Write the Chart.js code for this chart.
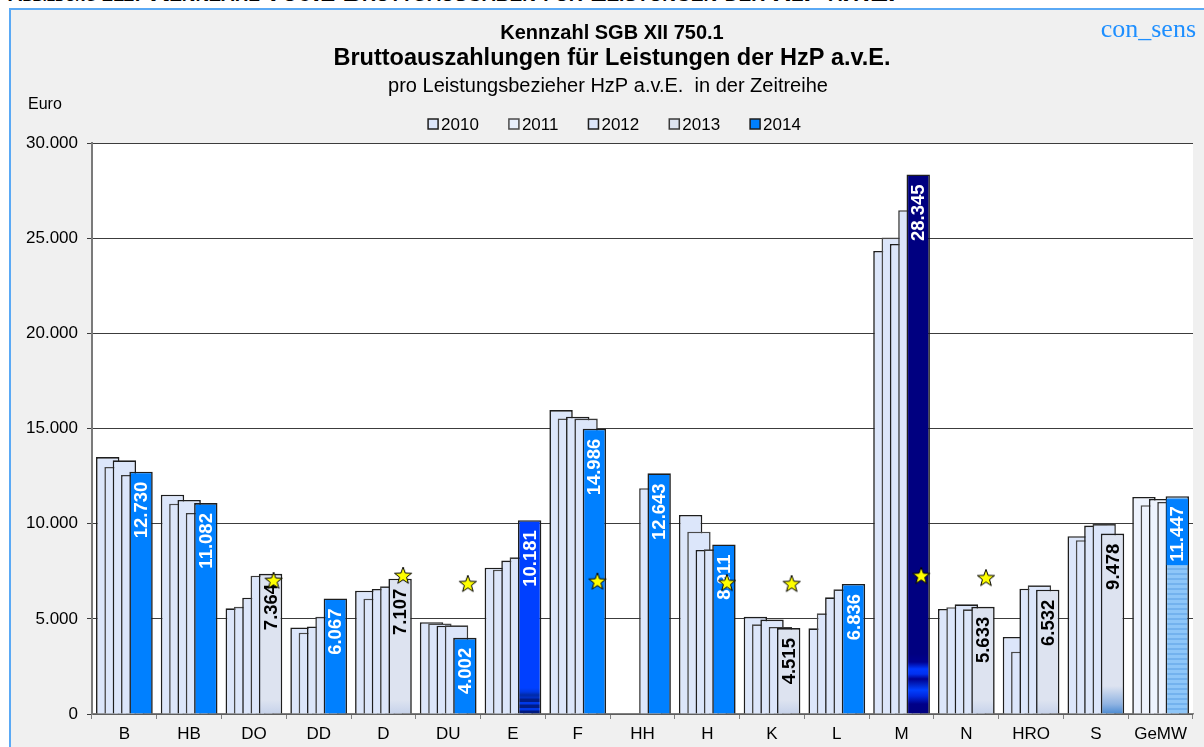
<!DOCTYPE html>
<html>
<head>
<meta charset="utf-8">
<script src="https://cdn.jsdelivr.net/npm/chart.js@4.4.0/dist/chart.umd.min.js"></script>
<style>
  html, body { margin: 0; padding: 0; background: #fff; overflow: hidden; }
  #wrap { position: relative; width: 1204px; height: 747px; }
  #head { position: absolute; left: 8px; top: -23px; font-family: "Liberation Sans", Arial, sans-serif; font-weight: bold; font-variant: small-caps; white-space: pre; color: #000; line-height: 30px; }
  #head .a { font-size: 20px; }
  #head .b { font-size: 27px; }
  #frame { position: absolute; left: 9px; top: 8px; width: 1300px; height: 800px; background: #f0f0f0; border-left: 2px solid #5aa9f5; border-top: 2px solid #5aa9f5; }
  #c { position: absolute; left: 0; top: 0; }
</style>
</head>
<body>
<div id="wrap">
  <div id="head"><span class="a">Abbildung 211:</span>  <span class="b">Kennzahl 750.1 Bruttoausgaben für Leistungen der HzP a.v.E.</span></div>
  <div id="frame"></div>
  <canvas id="c" width="1204" height="747"></canvas>
</div>
<script>
// Städte und Werte je Jahr (Euro pro Leistungsbezieher)
var cities = ["B","HB","DO","DD","D","DU","E","F","HH","H","K","L","M","N","HRO","S","GeMW"]
var years = ["2010","2011","2012","2013","2014"]
var v2010 = [13500,11520,5550,4550,6480,4820,7690,15970,null,10460,5110,4500,24330,5520,4050,9340,11400]
var v2011 = [12980,11050,5640,4270,6060,4760,7580,15530,null,9580,4710,5290,25030,5610,3270,9130,10970]
var v2012 = [13330,11250,6110,4600,6570,4640,8060,15620,null,8620,4960,6130,24700,5760,6580,9900,11300]
var v2013 = [12560,10560,7270,5110,6710,4660,8230,15520,11860,8650,4570,6550,26470,5500,6760,9980,11140]
var v2014 = [12730,11082,7364,6067,7107,4002,10181,14986,12643,8911,4515,6836,28345,5633,6532,9478,11447]
// Sterne (Vergleichswert je Stadt)
var stars = [null,null,7040,null,7300,6870,null,7000,null,6920,6870,null,7290,7180,null,null,null]
var yTicks = [0,5000,10000,15000,20000,25000,30000]

// Farbe je Balken 2014
var kind14 = ["blue","blue","light","blue","light","blue","stripe","blue","blue","blue","light","blue","navy","light","light","fade","mean"]

var FONT = '"Liberation Sans", Arial, sans-serif'

function fmt(v){
  return String(v).replace(/\B(?=(\d{3})+(?!\d))/g, ".")
}

function makeStar(){
  var c = document.createElement("canvas")
  c.width = 22; c.height = 22
  var g = c.getContext("2d")
  g.beginPath()
  for (var k = 0; k < 10; k++){
    var r = k % 2 ? 3.7 : 9
    var a = -Math.PI/2 + k*Math.PI/5
    g.lineTo(11 + r*Math.cos(a), 12 + r*Math.sin(a))
  }
  g.closePath()
  g.fillStyle = "#ffff00"
  g.fill()
  g.lineWidth = 1
  g.strokeStyle = "#000"
  g.stroke()
  return c
}
var starImg = makeStar()

var stripePat = null
function meanPattern(ctx){
  if (!stripePat){
    var c = document.createElement("canvas")
    c.width = 4; c.height = 5
    var g = c.getContext("2d")
    g.fillStyle = "#8ec6f8"; g.fillRect(0,0,4,5)
    g.fillStyle = "#73b2ee"; g.fillRect(0,3,4,2)
    stripePat = ctx.createPattern(c, "repeat")
  }
  return stripePat
}

function light(i){ return cities[i] == "GeMW" ? "#eef3fd" : "#dce6fa" }

function fill14(ctx){
  var i = ctx.dataIndex
  var k = kind14[i]
  var area = ctx.chart.chartArea
  var g2 = ctx.chart.ctx
  if (k == "blue") return "#0080ff"
  if (k == "mean") return area ? meanPattern(g2) : "#80c0ff"
  if (!area){
    return k == "navy" ? "#000080" : k == "stripe" ? "#0040ff" : "#dde3f0"
  }
  var b = area.bottom
  var gr
  if (k == "stripe"){
    gr = g2.createLinearGradient(0, b, 0, b-30)
    var st = [[0,"#001a80"],[3,"#001a80"],[4,"#0038e8"],[5.5,"#0038e8"],[6.5,"#001c88"],[9,"#001c88"],[10,"#0038e8"],[11.5,"#0038e8"],[12.5,"#001c88"],[15,"#001c88"],[16,"#0030c8"],[19,"#002aa8"],[22,"#0038e0"],[26,"#0040ff"],[30,"#0040ff"]]
    st.forEach(function(s){ gr.addColorStop(s[0]/30, s[1]) })
    return gr
  }
  if (k == "navy"){
    gr = g2.createLinearGradient(0, b, 0, b-60)
    var sn = [[0,"#000080"],[10,"#000088"],[18,"#0028e0"],[24,"#0040ff"],[30,"#0020c0"],[35,"#000090"],[40,"#0030f0"],[45,"#0038ff"],[52,"#000090"],[60,"#000080"]]
    sn.forEach(function(s){ gr.addColorStop(s[0]/60, s[1]) })
    return gr
  }
  if (k == "fade"){
    gr = g2.createLinearGradient(0, b, 0, b-28)
    gr.addColorStop(0, "#4a8ad2")
    gr.addColorStop(0.35, "#8fb3e2")
    gr.addColorStop(1, "#dde3f0")
    return gr
  }
  gr = g2.createLinearGradient(0, b, 0, b-14)
  gr.addColorStop(0, "#c6d2ea")
  gr.addColorStop(1, "#dde3f0")
  return gr
}

// Beschriftung der Balken 2014 (senkrecht)
function drawLabels(chart){
  var ctx = chart.ctx
  var meta = chart.getDatasetMeta(4)
  meta.data.forEach(function(bar, i){
    var v = v2014[i]
    if (v == null) return
    var k = kind14[i]
    ctx.save()
    if (k == "mean"){
      ctx.fillStyle = "#0080ff"
      ctx.fillRect(bar.x - bar.width/2 + 1, bar.y + 3, bar.width - 2, 66)
    }
    ctx.translate(bar.x + 1, bar.y + 10)
    ctx.rotate(-Math.PI/2)
    ctx.font = "bold 18.5px " + FONT
    ctx.textAlign = "right"
    ctx.textBaseline = "middle"
    ctx.fillStyle = (k == "light" || k == "fade") ? "#000" : "#fff"
    ctx.fillText(fmt(v), 0, 0)
    ctx.restore()
  })
}

// Sterne ueber dem Balken 2014, Hoehe ueber die y-Skala
function drawStars(chart){
  var ctx = chart.ctx
  var meta = chart.getDatasetMeta(4)
  var y = chart.scales.y
  stars.forEach(function(v, i){
    if (v == null) return
    var px = meta.data[i].x + 3
    var py = y.getPixelForValue(v)
    ctx.drawImage(starImg, px - 11, py - 11)
  })
}

// 2014 liegt vorne: Datensaetze in Reihenfolge zeichnen
var drawOrder = {
  id: "drawOrder",
  beforeDatasetsDraw: function(chart){
    for (var i = 0; i < chart.data.datasets.length; i++) chart.getDatasetMeta(i).controller.draw()
    drawLabels(chart)
    drawStars(chart)
    return false
  }
}

var frameText = {
  id: "frameText",
  beforeDraw: function(chart){
    var ctx = chart.ctx
    var a = chart.chartArea
    ctx.save()
    ctx.fillStyle = "#fff"
    ctx.fillRect(a.left, a.top, a.right - a.left, a.bottom - a.top)
    ctx.fillStyle = "#000"
    ctx.textAlign = "center"
    ctx.textBaseline = "middle"
    ctx.font = "bold 20px " + FONT
    ctx.fillText("Kennzahl SGB XII 750.1", 612, 33)
    ctx.font = "bold 23.5px " + FONT
    ctx.fillText("Bruttoauszahlungen für Leistungen der HzP a.v.E.", 612, 59)
    ctx.font = "20px " + FONT
    ctx.fillText("pro Leistungsbezieher HzP a.v.E.  in der Zeitreihe", 608, 86)
    ctx.textAlign = "left"
    ctx.font = "16px " + FONT
    ctx.fillText("Euro", 28, 105)
    ctx.textAlign = "right"
    ctx.fillStyle = "#1e8fff"
    ctx.font = '26px "Liberation Serif", "Times New Roman", serif'
    ctx.fillText("con_sens", 1196, 30)

    // Legende
    ctx.font = "17px " + FONT
    ctx.textAlign = "left"
    var items = chart.data.datasets
    var gap = 29, tot = 0
    items.forEach(function(d){ tot += 14 + ctx.measureText(d.label).width })
    tot += gap * (items.length - 1)
    var x = 615 - tot/2, y = 124
    items.forEach(function(d){
      ctx.fillStyle = d.legendFill
      ctx.fillRect(x, y - 5, 10, 10)
      ctx.lineWidth = 1.5
      ctx.strokeStyle = d.legendBorder
      ctx.strokeRect(x, y - 5, 10, 10)
      ctx.fillStyle = "#000"
      ctx.fillText(d.label, x + 13, y + 1)
      x += 14 + ctx.measureText(d.label).width + gap
    })
    ctx.restore()
  }
}

function barSet(label, data, fill, border, lf){
  return {
    label: label, data: data,
    backgroundColor: fill, borderColor: border, borderWidth: 1.6,
    legendFill: lf, legendBorder: border,
    categoryPercentage: 0.643, barPercentage: 2.81
  }
}

new Chart("c", {
  type: "bar",
  data: {
    labels: cities,
    datasets: [
      barSet(years[0], v2010, v2010.map(function(v,i){ return light(i) }), "#1e1e1e", "#dce6fa"),
      barSet(years[1], v2011, v2011.map(function(v,i){ return light(i) }), "#4a4a4a", "#e8effc"),
      barSet(years[2], v2012, v2012.map(function(v,i){ return light(i) }), "#1e1e1e", "#dce6fa"),
      barSet(years[3], v2013, v2013.map(function(v,i){ return light(i) }), "#3a3a3a", "#dde3f0"),
      barSet(years[4], v2014, fill14, "#1e1e1e", "#0080ff")
    ]
  },
  options: {
    responsive: false,
    devicePixelRatio: 1,
    animation: false,
    layout: { padding: { top: 143, right: 11, bottom: 0, left: 0 } },
    plugins: { legend: { display: false }, tooltip: { enabled: false }, title: { display: false } },
    scales: {
      x: {
        grid: { drawOnChartArea: false, color: "#808080", tickLength: 5, offset: true },
        border: { color: "#808080", width: 1.5 },
        ticks: { color: "#000", font: { family: FONT, size: 17 }, padding: 5 },
        afterFit: function(s){ s.height = 33 }
      },
      y: {
        min: 0, max: 30000,
        afterBuildTicks: function(s){ s.ticks = yTicks.map(function(v){ return {value: v} }) },
        grid: { color: "#3c3c3c", lineWidth: 1, tickLength: 5 },
        border: { color: "#7a7a7a", width: 2 },
        ticks: { color: "#000", font: { family: FONT, size: 17 }, padding: 9, callback: function(v){ return fmt(v) } },
        afterFit: function(s){ s.width = 92 }
      }
    }
  },
  plugins: [frameText, drawOrder]
})
</script>
</body>
</html>
